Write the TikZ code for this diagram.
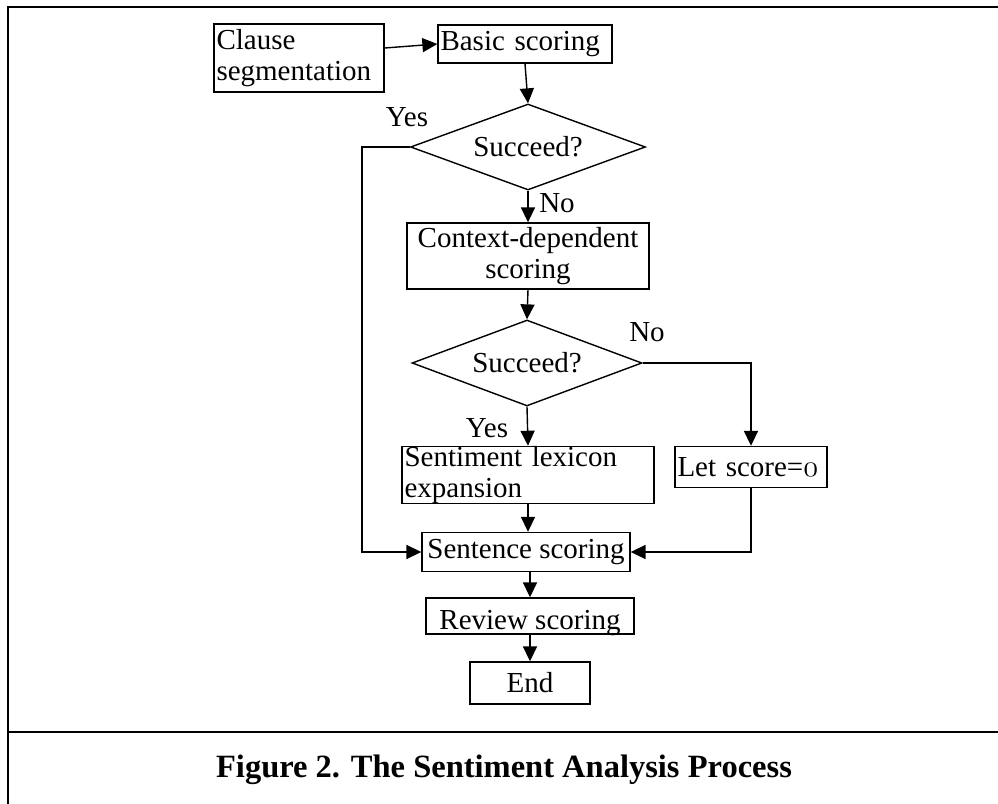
\documentclass[tikz,border=0pt]{standalone}
\usepackage{fontspec}
\setmainfont{Liberation Serif}
\usetikzlibrary{shapes.geometric,arrows.meta}
\newcommand{\oldzero}{{\usefont{OML}{cmm}{m}{it}0}}
\begin{document}
\begin{tikzpicture}[x=0.02cm,y=-0.02cm,
    font=\fontsize{16.5}{17.6}\selectfont,
    box/.style={draw,line width=0.8pt,rectangle,inner sep=1.4pt},
    choice/.style={draw,line width=0.8pt,diamond,shape aspect=2.73,inner sep=0pt},
    arr/.style={line width=0.8pt,-{Triangle[length=8.5pt,width=8pt]}},
    lbl/.style={inner sep=0pt}]
    \useasboundingbox (0,0) rectangle (998,804);
    % frame and rule above the caption
    \draw[line width=1.4pt] (8,804) -- (8,7) -- (998,7);
    \draw[line width=1.4pt] (8,732) -- (998,732);
    % boxes
    \node[box,minimum width=3.4cm,minimum height=1.36cm,text width=3.3cm,align=left] (clause) at (299,58) {Clause\\segmentation};
    \node[box,minimum width=3.48cm,minimum height=0.76cm,text width=3.38cm,align=left] (basic) at (525,44) {Basic scoring};
    \node[choice,minimum width=4.7cm,minimum height=1.72cm] (dec1) at (528,147) {Succeed?};
    \node[box,minimum width=4.84cm,minimum height=1.32cm,text width=4.74cm,align=center] (ctx) at (528,256) {Context-dependent\\scoring};
    \node[choice,minimum width=4.6cm,minimum height=1.72cm] (dec2) at (527,363) {Succeed?};
    \node[box,inner ysep=0pt,minimum width=5.04cm,minimum height=1.12cm,text width=4.94cm,align=left] (lex) at (528,475) {Sentiment lexicon\\expansion};
    \node[box,minimum width=3.04cm,minimum height=0.82cm,text width=2.94cm,align=left] (let) at (751,467) {Let score=\oldzero};
    \node[box,minimum width=4.16cm,minimum height=0.78cm] (sent) at (526,552) {Sentence scoring};
    \node[box,minimum width=4.16cm,minimum height=0.72cm] (review) at (530,616) {\raisebox{-4pt}[\height][\depth]{Review scoring}};
    \node[box,minimum width=2.4cm,minimum height=0.84cm] (end) at (530,683) {End};
    % labels
    \node[lbl] (yes1) at (407,117) {Yes};
    \node[lbl] (no1) at (557,203) {No};
    \node[lbl] (no2) at (647,332) {No};
    \node[lbl] (yes2) at (487,428) {Yes};
    \coordinate (yesturn) at (362,147);
    % connectors
    \draw[arr] ([yshift=0.2cm]clause.east) -- (basic.west);
    \draw[arr] (basic.south) -- (dec1.north);
    \draw[arr] (dec1.south) -- (ctx.north);
    \draw[arr] (dec1.west) -- (yesturn) |- (sent.west);
    \draw[arr] (ctx.south) -- (dec2.north);
    \draw[arr] (dec2.south) -- (lex.north);
    \draw[arr] (dec2.east) -| (let.north);
    \draw[arr] (lex.south) -- (lex.south |- sent.north);
    \draw[arr] (let.south) |- (sent.east);
    \draw[arr] (review.north |- sent.south) -- (review.north);
    \draw[arr] (review.south) -- (end.north);
    % caption
    \node[font=\bfseries\fontsize{18.5}{21}\selectfont] (caption) at (504,770) {Figure 2. The Sentiment Analysis Process};
\end{tikzpicture}
\end{document}
